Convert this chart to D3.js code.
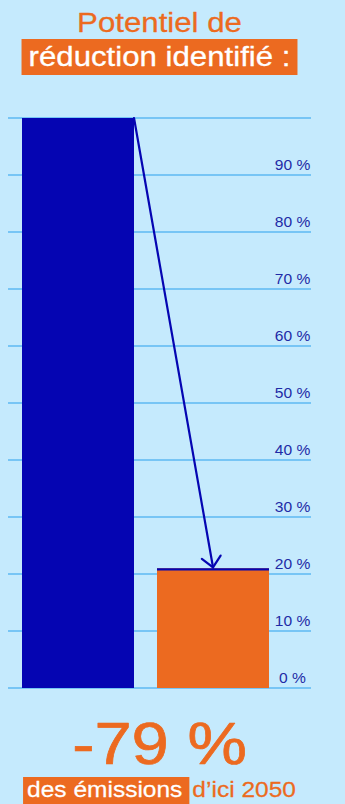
<!DOCTYPE html>
<html lang="fr">
<head>
<meta charset="utf-8">
<script src="https://cdn.jsdelivr.net/npm/d3@7/dist/d3.min.js"></script>
<style>
  html, body { margin: 0; padding: 0; background: #c5eafd; }
  svg { display: block; }
  text { font-family: "Liberation Sans", Arial, Helvetica, sans-serif; paint-order: stroke; }
</style>
</head>
<body>
<svg id="chart" width="345" height="804"></svg>
<script>
// Share of today's emissions: current level vs. level reachable by 2050
const categories = ["Aujourd'hui", "2050"];
const values = [100, 21];
const tickValues = [0, 10, 20, 30, 40, 50, 60, 70, 80, 90, 100];
const tickLabels = ["0 %", "10 %", "20 %", "30 %", "40 %", "50 %", "60 %", "70 %", "80 %", "90 %", ""];
const titleLines = ["Potentiel de", "réduction identifié :"];
const headline = "-79 %";
const footnoteHighlight = "des émissions";
const footnoteRest = "d’ici 2050";

const W = 345, H = 804;
const BG = "#c5eafd";
const ORANGE = "#ec6a20";
const BLUE = "#0505b2";
const GRID = "#5cb9f2";
const LABEL = "#1f2aa6";
const SX = 1.115;            // horizontally widened lettering
const CX = 159.5;            // centre line of the layout

const svg = d3.select("#chart");
svg.append("rect").attr("width", W).attr("height", H).attr("fill", BG);

const y = d3.scaleLinear().domain([0, 100]).range([688, 118]);
const x = d3.scaleBand().domain(categories).range([22, 269])
  .paddingInner(23 / 135).paddingOuter(0);

// widened text helper: anchor at (px, py); a thin same-colour stroke adds a little weight
function wideText(g, str, px, py, size, fill, anchor, weight) {
  return g.append("text")
    .attr("transform", `translate(${px},${py}) scale(${SX},1)`)
    .attr("text-anchor", anchor || "middle")
    .attr("font-size", size)
    .attr("fill", fill)
    .attr("stroke", fill)
    .attr("stroke-width", weight || 0)
    .attr("stroke-linejoin", "round")
    .text(str);
}

// gridlines + right-hand labels
const grid = svg.append("g");
grid.selectAll("line").data(tickValues).join("line")
  .attr("x1", 8).attr("x2", 311)
  .attr("y1", d => y(d)).attr("y2", d => y(d))
  .attr("stroke", GRID).attr("stroke-width", 1.3);
tickValues.forEach((t, i) => {
  if (tickLabels[i]) wideText(grid, tickLabels[i], 292.5, y(t) - 5, 14, LABEL, "middle", 0);
});

// bars
const bars = svg.append("g");
bars.selectAll("rect").data(values).join("rect")
  .attr("x", (d, i) => x(categories[i]))
  .attr("width", x.bandwidth())
  .attr("y", d => y(d))
  .attr("height", d => y(0) - y(d))
  .attr("fill", (d, i) => i === 0 ? BLUE : ORANGE);
// dark rim on top of the reduced bar
bars.append("line")
  .attr("x1", x(categories[1])).attr("x2", x(categories[1]) + x.bandwidth())
  .attr("y1", y(values[1]) + 1).attr("y2", y(values[1]) + 1)
  .attr("stroke", BLUE).attr("stroke-width", 2.2);

// arrow from top of first bar down to second bar
const ax0 = x(categories[0]) + x.bandwidth(), ay0 = y(values[0]);
const ax1 = x(categories[1]) + x.bandwidth() / 2, ay1 = y(values[1]);
const arrow = svg.append("g").attr("stroke", BLUE).attr("fill", "none")
  .attr("stroke-width", 2.2).attr("stroke-linecap", "round");
arrow.append("line").attr("x1", ax0).attr("y1", ay0).attr("x2", ax1).attr("y2", ay1 - 1);
const ang = Math.atan2(ay1 - ay0, ax1 - ax0);
const headLen = 14, spread = Math.PI / 4.2;
const hx = ax1, hy = ay1 - 1;
arrow.append("path").attr("d", d3.line()([
  [hx - headLen * Math.cos(ang - spread), hy - headLen * Math.sin(ang - spread)],
  [hx, hy],
  [hx - headLen * Math.cos(ang + spread), hy - headLen * Math.sin(ang + spread)]
])).attr("stroke-linejoin", "miter");

// title
const title = svg.append("g");
wideText(title, titleLines[0], CX, 32, 28, ORANGE, "middle", 0.3);
const boxG = title.append("g");
const t2 = wideText(title, titleLines[1], CX, 66, 28, "#ffffff", "middle", 0.3);
const t2w = t2.node().getComputedTextLength() * SX;
boxG.append("rect")
  .attr("x", CX - t2w / 2 - 7).attr("width", t2w + 14)
  .attr("y", 39).attr("height", 36)
  .attr("fill", ORANGE);

// headline figure
wideText(svg, headline, CX, 764, 60, ORANGE, "middle", 0.7);

// footnote: highlighted part + plain part
const foot = svg.append("g");
const fBox = foot.append("g");
const fa = wideText(foot, footnoteHighlight, 0, 797, 22, "#ffffff", "start", 0.25);
const fb = wideText(foot, footnoteRest, 0, 797, 22, ORANGE, "start", 0.25);
const wa = fa.node().getComputedTextLength() * SX;
const wb = fb.node().getComputedTextLength() * SX;
const padL = 4, padR = 7, gap = 3;
const total = padL + wa + padR + gap + wb;
const left = CX - total / 2;
fa.attr("transform", `translate(${left + padL},797) scale(${SX},1)`);
fb.attr("transform", `translate(${left + padL + wa + padR + gap},797) scale(${SX},1)`);
fBox.append("rect")
  .attr("x", left).attr("width", padL + wa + padR)
  .attr("y", 777).attr("height", 30)
  .attr("fill", ORANGE);
</script>
</body>
</html>
